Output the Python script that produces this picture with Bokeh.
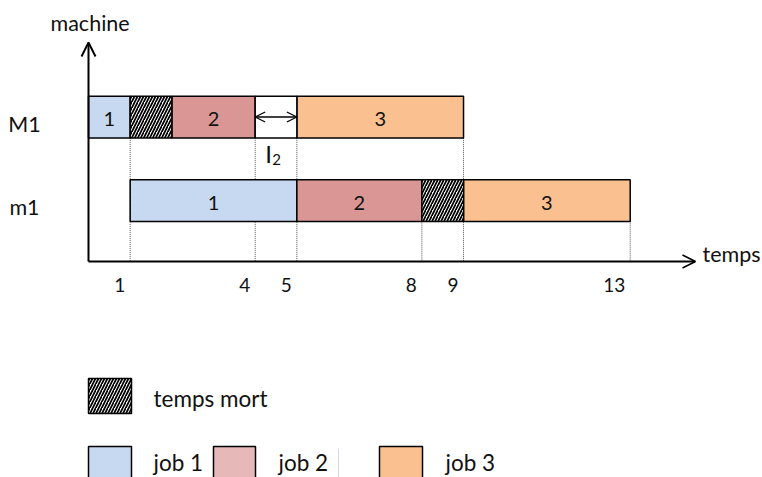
from bokeh.plotting import figure
from bokeh.models import Range1d, Arrow, OpenHead
from bokeh.embed import file_html
from bokeh.resources import INLINE
from bokeh.core.properties import value

# ---------------- data ----------------
machines = ["M1", "m1"]
machine_rows = [2, 1]

M1_jobs = ["1", "2", "3"]
M1_start = [0, 2, 5]
M1_end = [1, 4, 9]
M1_dead_start = [1]
M1_dead_end = [2]
M1_idle_start = [4]
M1_idle_end = [5]

m1_jobs = ["1", "2", "3"]
m1_start = [1, 5, 9]
m1_end = [5, 8, 13]
m1_dead_start = [8]
m1_dead_end = [9]

job_colors = ["#C6D9F1", "#D99694", "#FAC090"]
legend_colors = ["#C6D9F1", "#E6B9B8", "#FAC090"]
legend_labels = ["job 1", "job 2", "job 3"]
dead_label = "temps mort"
idle_label = "I"
idle_sub = "2"
tick_values = [1, 4, 5, 8, 9, 13]
x_title = "temps"
y_title = "machine"

# ---------------- layout helpers ----------------
W, H = 762, 477
PX_T = 41.67
PX_ROW = 83.5


def X(px):
    return (px - 88) / PX_T


def Y(py):
    return 1 + (200 - py) / PX_ROW


def TY(py):
    # text baseline position (compensates for renderer baseline offset)
    return Y(py - 7)


BAR_H = 0.5
AX_Y = Y(261)
FONT = value("Lato")
FS = "21.5px"
FS_NUM = "20px"
TXT = "#111111"

p = figure(width=W, height=H,
           x_range=Range1d(X(0), X(W)), y_range=Range1d(Y(H), Y(0)),
           output_backend="svg", toolbar_location=None, min_border=0,
           x_axis_type=None, y_axis_type=None)
p.grid.visible = False
p.outline_line_color = None
p.background_fill_color = "white"

row_M1, row_m1 = machine_rows
M1_edges = set(M1_start + M1_end + M1_dead_start + M1_dead_end + M1_idle_start + M1_idle_end)

# dotted guide lines
for t in tick_values:
    top = row_M1 - BAR_H / 2 if t in M1_edges else row_m1 - BAR_H / 2
    p.segment(x0=[t], y0=[top], x1=[t], y1=[AX_Y], line_color="#555555",
              line_width=1, line_dash="1 1")

hatch_kw = dict(fill_color="white", hatch_pattern="/", hatch_color="black", hatch_scale=6,
                hatch_weight=1.7, line_color="black", line_width=1.5)

# bars M1
p.quad(left=M1_start, right=M1_end, top=[row_M1 + BAR_H / 2] * 3, bottom=[row_M1 - BAR_H / 2] * 3,
       fill_color=job_colors, line_color="black", line_width=1.5)
p.quad(left=M1_dead_start, right=M1_dead_end, top=[row_M1 + BAR_H / 2], bottom=[row_M1 - BAR_H / 2],
       **hatch_kw)
p.quad(left=M1_idle_start, right=M1_idle_end, top=[row_M1 + BAR_H / 2], bottom=[row_M1 - BAR_H / 2],
       fill_color="white", line_color="black", line_width=1.5)
# bars m1
p.quad(left=m1_start, right=m1_end, top=[row_m1 + BAR_H / 2] * 3, bottom=[row_m1 - BAR_H / 2] * 3,
       fill_color=job_colors, line_color="black", line_width=1.5)
p.quad(left=m1_dead_start, right=m1_dead_end, top=[row_m1 + BAR_H / 2], bottom=[row_m1 - BAR_H / 2],
       **hatch_kw)

TXT_DY = 7 / PX_ROW

# bar labels
p.text(x=[(a + b) / 2 for a, b in zip(M1_start, M1_end)], y=[row_M1 - 0.11 + TXT_DY] * 3, text=M1_jobs,
       text_font=FONT, text_font_size=FS_NUM, text_align="center", text_baseline="alphabetic",
       text_color=TXT)
p.text(x=[(a + b) / 2 for a, b in zip(m1_start, m1_end)], y=[row_m1 - 0.11 + TXT_DY] * 3, text=m1_jobs,
       text_font=FONT, text_font_size=FS_NUM, text_align="center", text_baseline="alphabetic",
       text_color=TXT)

# idle arrow and label
p.add_layout(Arrow(start=OpenHead(size=10, line_width=1.3), end=OpenHead(size=10, line_width=1.3),
                   x_start=M1_idle_start[0], x_end=M1_idle_end[0], y_start=row_M1, y_end=row_M1,
                   line_width=1.3, line_color="black"))
p.text(x=[X(268)], y=[TY(160)], text=[idle_label], text_font=FONT, text_font_size="24px",
       text_align="center", text_baseline="alphabetic", text_color=TXT)
p.text(x=[X(276)], y=[TY(166)], text=[idle_sub], text_font=FONT, text_font_size="15px",
       text_align="center", text_baseline="alphabetic", text_color=TXT)

# axes with arrows
p.add_layout(Arrow(end=OpenHead(size=14, line_width=2), x_start=0, y_start=AX_Y, x_end=0, y_end=Y(42),
                   line_width=2, line_color="black"))
p.add_layout(Arrow(end=OpenHead(size=13, line_width=1.5), x_start=0, y_start=AX_Y, x_end=X(695), y_end=AX_Y,
                   line_width=2, line_color="black"))
p.text(x=[X(50)], y=[TY(29)], text=[y_title], text_font=FONT, text_font_size=FS,
       text_align="left", text_baseline="alphabetic", text_color=TXT)
p.text(x=[X(702)], y=[TY(260)], text=[x_title], text_font=FONT, text_font_size=FS,
       text_align="left", text_baseline="alphabetic", text_color=TXT)

# machine labels
p.text(x=[X(24)] * 2, y=[r - 0.165 + TXT_DY for r in machine_rows], text=machines, text_font=FONT,
       text_font_size=FS, text_align="center", text_baseline="alphabetic", text_color=TXT)

# tick labels
p.text(x=[t - 5 / PX_T for t in tick_values], y=[TY(291)] * len(tick_values),
       text=[str(t) for t in tick_values], text_font=FONT, text_font_size="19px",
       text_align="right", text_baseline="alphabetic", text_color=TXT)

# legend
p.quad(left=[X(88)], right=[X(131)], top=[Y(378)], bottom=[Y(413)], **hatch_kw)
p.text(x=[X(153)], y=[TY(405)], text=[dead_label], text_font=FONT, text_font_size="22.5px",
       text_align="left", text_baseline="alphabetic", text_color=TXT)

p.quad(left=[X(88), X(213), X(379)], right=[X(131), X(255), X(422)],
       top=[Y(446)] * 3, bottom=[Y(500)] * 3,
       fill_color=legend_colors, line_color="black", line_width=1.5)
p.text(x=[X(153), X(278), X(445)], y=[TY(469)] * 3, text=legend_labels, text_font=FONT,
       text_font_size="22.5px", text_align="left", text_baseline="alphabetic", text_color=TXT)
p.segment(x0=[X(338)], y0=[Y(448)], x1=[X(338)], y1=[Y(490)], line_color="#D0D8E8", line_width=1)

open("out.html", "w").write(file_html(p, INLINE))
